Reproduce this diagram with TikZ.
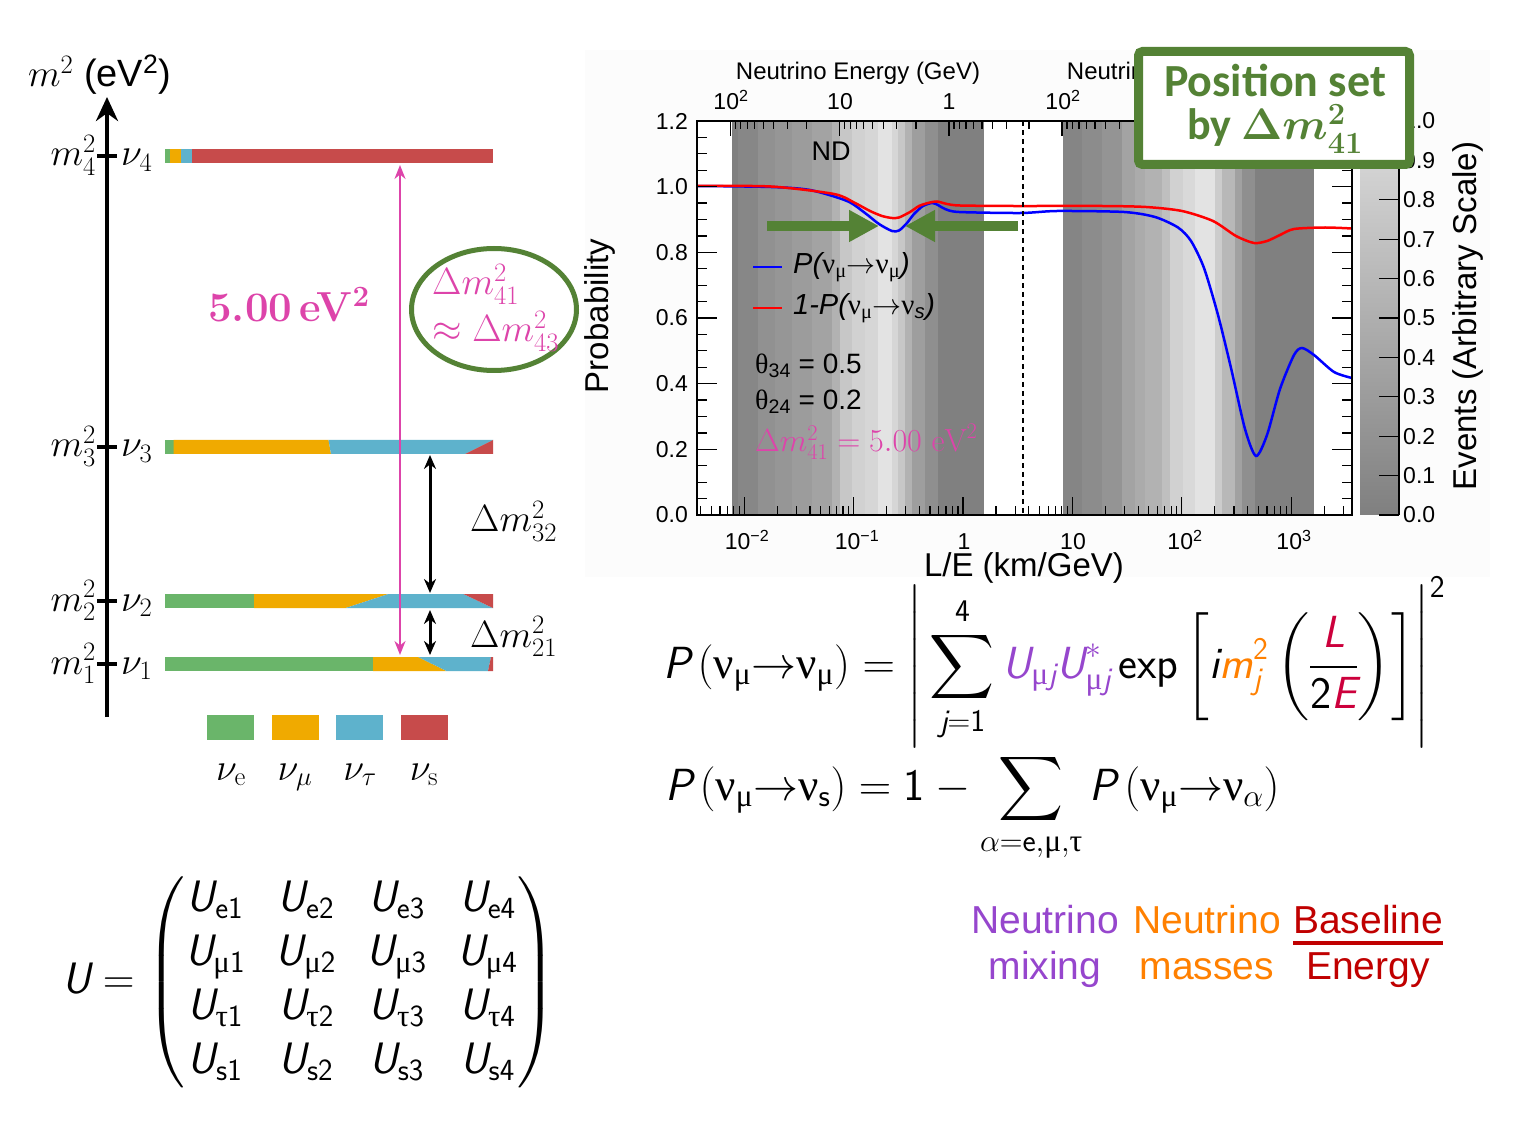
\RequirePackage{fix-cm}
\documentclass[tikz,border=0pt]{standalone}
\usepackage{amsmath}
\DeclareFontFamily{OMX}{cmex}{}
\DeclareFontShape{OMX}{cmex}{m}{n}{<-> cmex10}{}
\usepackage{fontspec}
\newfontfamily\arial{Liberation Sans}
\newfontfamily\grk{Liberation Serif}
\newfontfamily\carl{Carlito}
\usetikzlibrary{arrows.meta,shapes.geometric}
\definecolor{gcol}{RGB}{106,181,106}
\definecolor{ycol}{RGB}{240,170,0}
\definecolor{bcol}{RGB}{94,178,204}
\definecolor{rcol}{RGB}{199,75,75}
\definecolor{pinkc}{RGB}{221,68,170}
\definecolor{dgreen}{RGB}{84,130,53}
\definecolor{mixc}{RGB}{150,70,205}
\definecolor{massc}{RGB}{255,128,0}
\definecolor{lec}{RGB}{204,0,60}
\definecolor{basec}{RGB}{192,0,0}
\definecolor{plotbg}{RGB}{252,252,252}
\definecolor{cbbot}{gray}{0.5}
\definecolor{cbtop}{gray}{0.87}
\newcommand\fs[2]{\fontsize{#1}{#2}\selectfont}
\newcommand\si[1]{\text{\sffamily\itshape #1}}
\newcommand\su[1]{\text{\sffamily #1}}
\newcommand\gnu{\text{\grk ν}}
\newcommand\gmu{\text{\grk μ}}
\newcommand\gtau{\text{\grk τ}}
\begin{document}
\begin{tikzpicture}[x=1pt,y=-1pt,
  tl/.style={inner sep=0pt, font=\arial\fs{23}{27}},
  axl/.style={inner sep=0pt, font=\arial\fs{33}{38}},
  ml/.style={inner sep=0pt, font=\fs{38}{44}},
  dbl/.style={line width=3, {Stealth[length=14,width=12]}-{Stealth[length=14,width=12]}},
  pinkarr/.style={line width=2, pinkc, {Stealth[length=14,width=11]}-{Stealth[length=14,width=11]}},
  swatch/.style={inner sep=0pt, minimum width=47, minimum height=25},
  garrow/.style={line width=10, dgreen, -{Triangle[length=30,width=30]}},
  bl/.style={inner sep=0pt, font=\arial\fs{39}{46}}]
\useasboundingbox (0,0) rectangle (1519,1147);
\fill[white] (0,0) rectangle (1519,1147);

% ================= mass diagram =================
\draw[line width=4, -{Stealth[length=24,width=22]}] (107,717) -- (107,97);
\node[inner sep=0pt, anchor=base west, font=\arial\fs{38}{44}] (yl) at (28,87) {$m^2$ (eV\textsuperscript{2})};
\foreach \yy in {156,447,601,664} \draw[line width=4] (97,\yy) -- (117,\yy);
\node[ml, anchor=base east] (lm4) at (96,166) {$m_4^2$};
\node[ml, anchor=base west] (ln4) at (121,166) {$\nu_4$};
\node[ml, anchor=base east] (lm3) at (96,457) {$m_3^2$};
\node[ml, anchor=base west] (ln3) at (121,457) {$\nu_3$};
\node[ml, anchor=base east] (lm2) at (96,611) {$m_2^2$};
\node[ml, anchor=base west] (ln2) at (121,611) {$\nu_2$};
\node[ml, anchor=base east] (lm1) at (96,674) {$m_1^2$};
\node[ml, anchor=base west] (ln1) at (121,674) {$\nu_1$};
% bar m4
\fill[gcol] (165,149) rectangle (169.5,163);
\fill[ycol] (169.5,149) rectangle (181,163);
\fill[bcol] (181,149) rectangle (191.5,163);
\fill[rcol] (191.5,149) rectangle (493,163);
% bar m3
\fill[gcol] (165,440) rectangle (173.5,454);
\fill[ycol] (173.5,440) -- (328.5,440) -- (331,454) -- (173.5,454) -- cycle;
\fill[bcol] (328.5,440) -- (493,440) -- (465,454) -- (331,454) -- cycle;
\fill[rcol] (493,440) -- (493,454) -- (465,454) -- cycle;
% bar m2
\fill[gcol] (165,594) rectangle (254,608);
\fill[ycol] (254,594) -- (388.5,594) -- (345.7,608) -- (254,608) -- cycle;
\fill[bcol] (388.5,594) -- (463.4,594) -- (493,608) -- (345.7,608) -- cycle;
\fill[rcol] (463.4,594) -- (493,594) -- (493,608) -- cycle;
% bar m1
\fill[gcol] (165,657) rectangle (373,671);
\fill[ycol] (373,657) -- (418,657) -- (446.5,671) -- (373,671) -- cycle;
\fill[bcol] (418,657) -- (491,657) -- (488,671) -- (446.5,671) -- cycle;
\fill[rcol] (491,657) -- (493,657) -- (493,671) -- (488,671) -- cycle;
% arrows
\coordinate (p4) at (400,165);
\coordinate (p1) at (400,655);
\draw[pinkarr] (p4) -- (p1);
\coordinate (a3) at (430,455);
\coordinate (a2t) at (430,593);
\coordinate (a2b) at (430,610);
\coordinate (a1) at (430,655);
\draw[dbl] (a3) -- (a2t);
\draw[dbl] (a2b) -- (a1);
\node[ml, anchor=base west] (d32) at (470,532) {$\Delta m^2_{32}$};
\node[ml, anchor=base west] (d21) at (470,647) {$\Delta m^2_{21}$};
\node[inner sep=0pt, anchor=base, text=pinkc, font=\bfseries\fs{42}{48}] (five) at (289,322) {5.00\,eV\textsuperscript{2}};
\node[ellipse, draw=dgreen, line width=5, minimum width=165, minimum height=122, inner sep=0pt] (ell) at (494,309.5) {};
\node[ml, anchor=base west, text=pinkc] (e1) at (432,295) {$\Delta m^2_{41}$};
\node[ml, anchor=base west, text=pinkc] (e2) at (432,342) {$\approx \Delta m^2_{43}$};
% legend swatches
\node[swatch, fill=gcol] (sw1) at (230.5,727.5) {};
\node[swatch, fill=ycol] (sw2) at (295,727.5) {};
\node[swatch, fill=bcol] (sw3) at (359.5,727.5) {};
\node[swatch, fill=rcol] (sw4) at (424,727.5) {};
\node[ml, anchor=base] (n1) at (231,780) {$\nu_{\mathrm{e}}$};
\node[ml, anchor=base] (n2) at (295,780) {$\nu_{\mu}$};
\node[ml, anchor=base] (n3) at (360,780) {$\nu_{\tau}$};
\node[ml, anchor=base] (n4) at (424,780) {$\nu_{\mathrm{s}}$};

% ================= plot =================
\fill[plotbg] (585,50) rectangle (1490,577);
\fill[white] (697,121) rectangle (1352,515);
\foreach \a/\b/\g in {732/738/0.50,738/758/0.53,758/775/0.57,775/792/0.59,792/812/0.61,812/832/0.64,832/840/0.70,840/852/0.78,852/865/0.82,865/878/0.84,878/892/0.89,892/898/0.84,898/905/0.78,905/912/0.70,912/925/0.62,925/938/0.56,938/984/0.50,
  1063/1082/0.52,1082/1102/0.55,1102/1122/0.58,1122/1135/0.64,1135/1145/0.67,1145/1162/0.70,1162/1170/0.75,1170/1183/0.82,1183/1195/0.85,1195/1215/0.89,1215/1222/0.80,1222/1235/0.72,1235/1242/0.63,1242/1255/0.56,1255/1314/0.50}
  {\definecolor{tmpg}{gray}{\g}\fill[tmpg] (\a,121) rectangle (\b,515);}
\shade[bottom color=cbbot, top color=cbtop] (1360,121) rectangle (1398,515);
% curves
\draw[blue, line width=2.5] plot[smooth, tension=0.45] coordinates {(697,186) (771,187) (810,190) (847,201) (865,213) (879,224) (892,231) (899,230.5) (907,223) (914,214) (923,206) (932,203) (938,205) (945,209) (959,212) (1021,213) (1057,211) (1124,212) (1155,217) (1178,227.5) (1191,241) (1204,268) (1218,315) (1231,368) (1245,429) (1256,456) (1267,435) (1280,389) (1294,355) (1302,348) (1314,355) (1334,372) (1352,378)};
\draw[red, line width=2.5] plot[smooth, tension=0.45] coordinates {(697,186) (771,186.5) (834,194) (855,203) (870,211) (882,216) (892,218) (899,217.5) (910,212) (919,206) (928,203) (937,201.5) (947,204) (960,205.5) (1012,206) (1102,206) (1146,207) (1182,211) (1213,221) (1236,236) (1254,243) (1267,241) (1280,235) (1294,229) (1325,227.5) (1352,228.5)};
% green arrows
\coordinate (gl0) at (767,226);
\coordinate (gl1) at (879,226);
\coordinate (gr0) at (1018,226);
\coordinate (gr1) at (905,226);
\draw[garrow] (gl0) -- (gl1);
\draw[garrow] (gr0) -- (gr1);
% dashed line
\coordinate (dtop) at (1023,121);
\coordinate (dbot) at (1023,515);
\draw[line width=1.5, dash pattern=on 5 off 4] (dtop) -- (dbot);
% frame
\draw[line width=2] (697,121) rectangle (1352,515);
% y ticks
\foreach \i in {0,...,24}{
  \pgfmathsetmacro\yy{515-328.3*0.05*\i}
  \pgfmathtruncatemacro\mj{mod(\i,4)==0}
  \ifnum\mj=1
    \draw[line width=1.2] (697,\yy) -- (717,\yy);
    \draw[line width=1.2] (1352,\yy) -- (1332,\yy);
  \else
    \draw[line width=1.2] (697,\yy) -- (707,\yy);
    \draw[line width=1.2] (1352,\yy) -- (1342,\yy);
  \fi}
% bottom x ticks
\foreach \n in {-3,...,3}{\foreach \k in {1,...,9}{
  \pgfmathsetmacro\xx{963+109.4*(\n+log10(\k))}
  \pgfmathtruncatemacro\ok{(\xx>698)*(\xx<1351)}
  \ifnum\ok=1
    \ifnum\k=1 \draw[line width=1.2] (\xx,515) -- (\xx,497);
    \else \draw[line width=1.2] (\xx,515) -- (\xx,506); \fi
  \fi}}
% top ticks ND and FD
\foreach \n in {-1,...,2}{\foreach \k in {1,...,9}{
  \pgfmathsetmacro\xa{949-109.4*(\n+log10(\k))}
  \pgfmathtruncatemacro\oka{(\xa>698)*(\xa<1020)}
  \ifnum\oka=1
    \ifnum\k=1 \draw[line width=1.2] (\xa,121) -- (\xa,136);
    \else \draw[line width=1.2] (\xa,121) -- (\xa,129); \fi
  \fi
  \pgfmathsetmacro\xb{1280.8-109.4*(\n+log10(\k))}
  \pgfmathtruncatemacro\okb{(\xb>1026)*(\xb<1351)}
  \ifnum\okb=1
    \ifnum\k=1 \draw[line width=1.2] (\xb,121) -- (\xb,136);
    \else \draw[line width=1.2] (\xb,121) -- (\xb,129); \fi
  \fi}}
% y labels
\foreach \v/\t in {0/0.0,0.2/0.2,0.4/0.4,0.6/0.6,0.8/0.8,1.0/1.0,1.2/1.2}
  \node[tl, anchor=east] at (688,{515-328.3*\v}) {\t};
% bottom labels
\node[tl, anchor=base] (bx1) at (747,550) {10\textsuperscript{−2}};
\node[tl, anchor=base] (bx2) at (857,550) {10\textsuperscript{−1}};
\node[tl, anchor=base] (bx3) at (964,550) {1};
\node[tl, anchor=base] (bx4) at (1073,550) {10};
\node[tl, anchor=base] (bx5) at (1185,550) {10\textsuperscript{2}};
\node[tl, anchor=base] (bx6) at (1294,550) {10\textsuperscript{3}};
% top labels
\node[tl, anchor=base] (tx1) at (731,110) {10\textsuperscript{2}};
\node[tl, anchor=base] (tx2) at (840,110) {10};
\node[tl, anchor=base] (tx3) at (949,110) {1};
\node[tl, anchor=base] (tx4) at (1063,110) {10\textsuperscript{2}};
\node[tl, anchor=base] (tx5) at (1171,110) {10};
\node[tl, anchor=base] (tx6) at (1281,110) {1};
\node[inner sep=0pt, anchor=base, font=\arial\fs{24}{28}] (etop1) at (858,80) {Neutrino Energy (GeV)};
\node[inner sep=0pt, anchor=base, font=\arial\fs{24}{28}] (etop2) at (1189,80) {Neutrino Energy (GeV)};
% axis titles
\node[axl, rotate=90] (prob) at (600,316) {Probability};
\node[axl, anchor=base] (le) at (1024,576) {L/E (km/GeV)};
\node[axl, rotate=90] (ev) at (1468,316) {Events (Arbitrary Scale)};
\node[inner sep=0pt, font=\arial\fs{27}{32}] (nd) at (831,151) {ND};
% colorbar axis
\draw[line width=1.5] (1399,121) -- (1399,515);
\foreach \i/\t in {0/0.0,1/0.1,2/0.2,3/0.3,4/0.4,5/0.5,6/0.6,7/0.7,8/0.8,9/0.9,10/1.0}{
  \pgfmathsetmacro\yy{515-39.4*\i}
  \draw[line width=1.2] (1379,\yy) -- (1399,\yy);
  \node[tl, anchor=west] at (1403,\yy) {\t};}
% legend
\coordinate (lb0) at (753,267); \coordinate (lb1) at (782,267);
\coordinate (lr0) at (753,308); \coordinate (lr1) at (782,308);
\draw[blue, line width=2.5] (lb0) -- (lb1);
\draw[red, line width=2.5] (lr0) -- (lr1);
\node[inner sep=0pt, anchor=west, font=\arial\fs{29}{33}] (legb) at (793,267) {\itshape P(\upshape{\grk ν}\textsubscript{\grk μ}$\rightarrow${\grk ν}\textsubscript{\grk μ}\itshape)};
\node[inner sep=0pt, anchor=west, font=\arial\fs{29}{33}] (legr) at (793,308) {\itshape 1-P(\upshape{\grk ν}\textsubscript{\grk μ}$\rightarrow${\grk ν}\textsubscript{\itshape s}\itshape)};
\node[inner sep=0pt, anchor=west, font=\arial\fs{28}{32}] (th34) at (755,366) {{\grk θ}\textsubscript{34} = 0.5};
\node[inner sep=0pt, anchor=west, font=\arial\fs{28}{32}] (th24) at (755,402) {{\grk θ}\textsubscript{24} = 0.2};
\node[inner sep=0pt, anchor=base west, text=pinkc, font=\fs{32}{36}] (dm) at (755,452) {$\Delta m^2_{41} = 5.00\ \mathrm{eV}^2$};
% position box
\node[draw=dgreen, line width=9, fill=white, rounded corners=4, minimum width=271, minimum height=113, inner sep=0pt] (pbox) at (1274,108) {};
\node[inner sep=0pt, anchor=base, text=dgreen, font=\carl\bfseries\fs{46}{50}] (pb1) at (1275,97) {Position set};
\node[inner sep=0pt, anchor=base, text=dgreen, font=\carl\bfseries\fs{44}{48}] (pb2) at (1275,140) {by $\boldsymbol{\Delta m^2_{41}}$};

% ================= formulas =================
\node[inner sep=0pt, anchor=base west, font=\fs{45}{52}] (f1) at (663,678) {$\displaystyle \si{P}\left(\gnu_{\gmu}{\rightarrow}\gnu_{\gmu}\right) = \left|\rule[-62pt]{0pt}{142pt}\sum_{\si{j}=\su{1}}^{\su{4}} \textcolor{mixc}{\si{U}_{\gmu\si{j}}\si{U}^{*}_{\gmu\si{j}}}\,\su{exp}\left[\si{i}\textcolor{massc}{\si{m}^{\su{2}}_{\si{j}}}\left(\frac{\textcolor{lec}{\si{L}}}{\su{2}\textcolor{lec}{\si{E}}}\right)\right]\right|^{\su{2}}$};
\node[inner sep=0pt, anchor=base west, font=\fs{45}{52}] (f2) at (665,800) {$\displaystyle \si{P}\left(\gnu_{\gmu}{\rightarrow}\gnu_{\su{s}}\right) = \su{1} - \sum_{\alpha=\su{e},\gmu,\gtau} \si{P}\left(\gnu_{\gmu}{\rightarrow}\gnu_{\alpha}\right)$};
% matrix
\node[inner sep=0pt, anchor=west, font=\fs{44}{54}] (mat) at (62,982) {\setlength\arraycolsep{15.5pt}$\si{U} = \left(\begin{array}{@{}cccc@{}}
\si{U}_{\su{e1}} & \si{U}_{\su{e2}} & \si{U}_{\su{e3}} & \si{U}_{\su{e4}}\\
\si{U}_{\gmu\su{1}} & \si{U}_{\gmu\su{2}} & \si{U}_{\gmu\su{3}} & \si{U}_{\gmu\su{4}}\\
\si{U}_{\gtau\su{1}} & \si{U}_{\gtau\su{2}} & \si{U}_{\gtau\su{3}} & \si{U}_{\gtau\su{4}}\\
\si{U}_{\su{s1}} & \si{U}_{\su{s2}} & \si{U}_{\su{s3}} & \si{U}_{\su{s4}}
\end{array}\right)$};
% bottom labels
\node[bl, anchor=base, text=mixc] (mx1) at (1045,933) {Neutrino};
\node[bl, anchor=base, text=mixc] (mx2) at (1045,979) {mixing};
\node[bl, anchor=base, text=massc] (ms1) at (1207,933) {Neutrino};
\node[bl, anchor=base, text=massc] (ms2) at (1207,979) {masses};
\node[bl, anchor=base, text=basec] (bs1) at (1368,933) {Baseline};
\node[bl, anchor=base, text=basec] (bs2) at (1368,979) {Energy};
\coordinate (fl0) at (1293,943); \coordinate (fl1) at (1443,943);
\draw[basec, line width=3.5] (fl0) -- (fl1);
\end{tikzpicture}
\end{document}
